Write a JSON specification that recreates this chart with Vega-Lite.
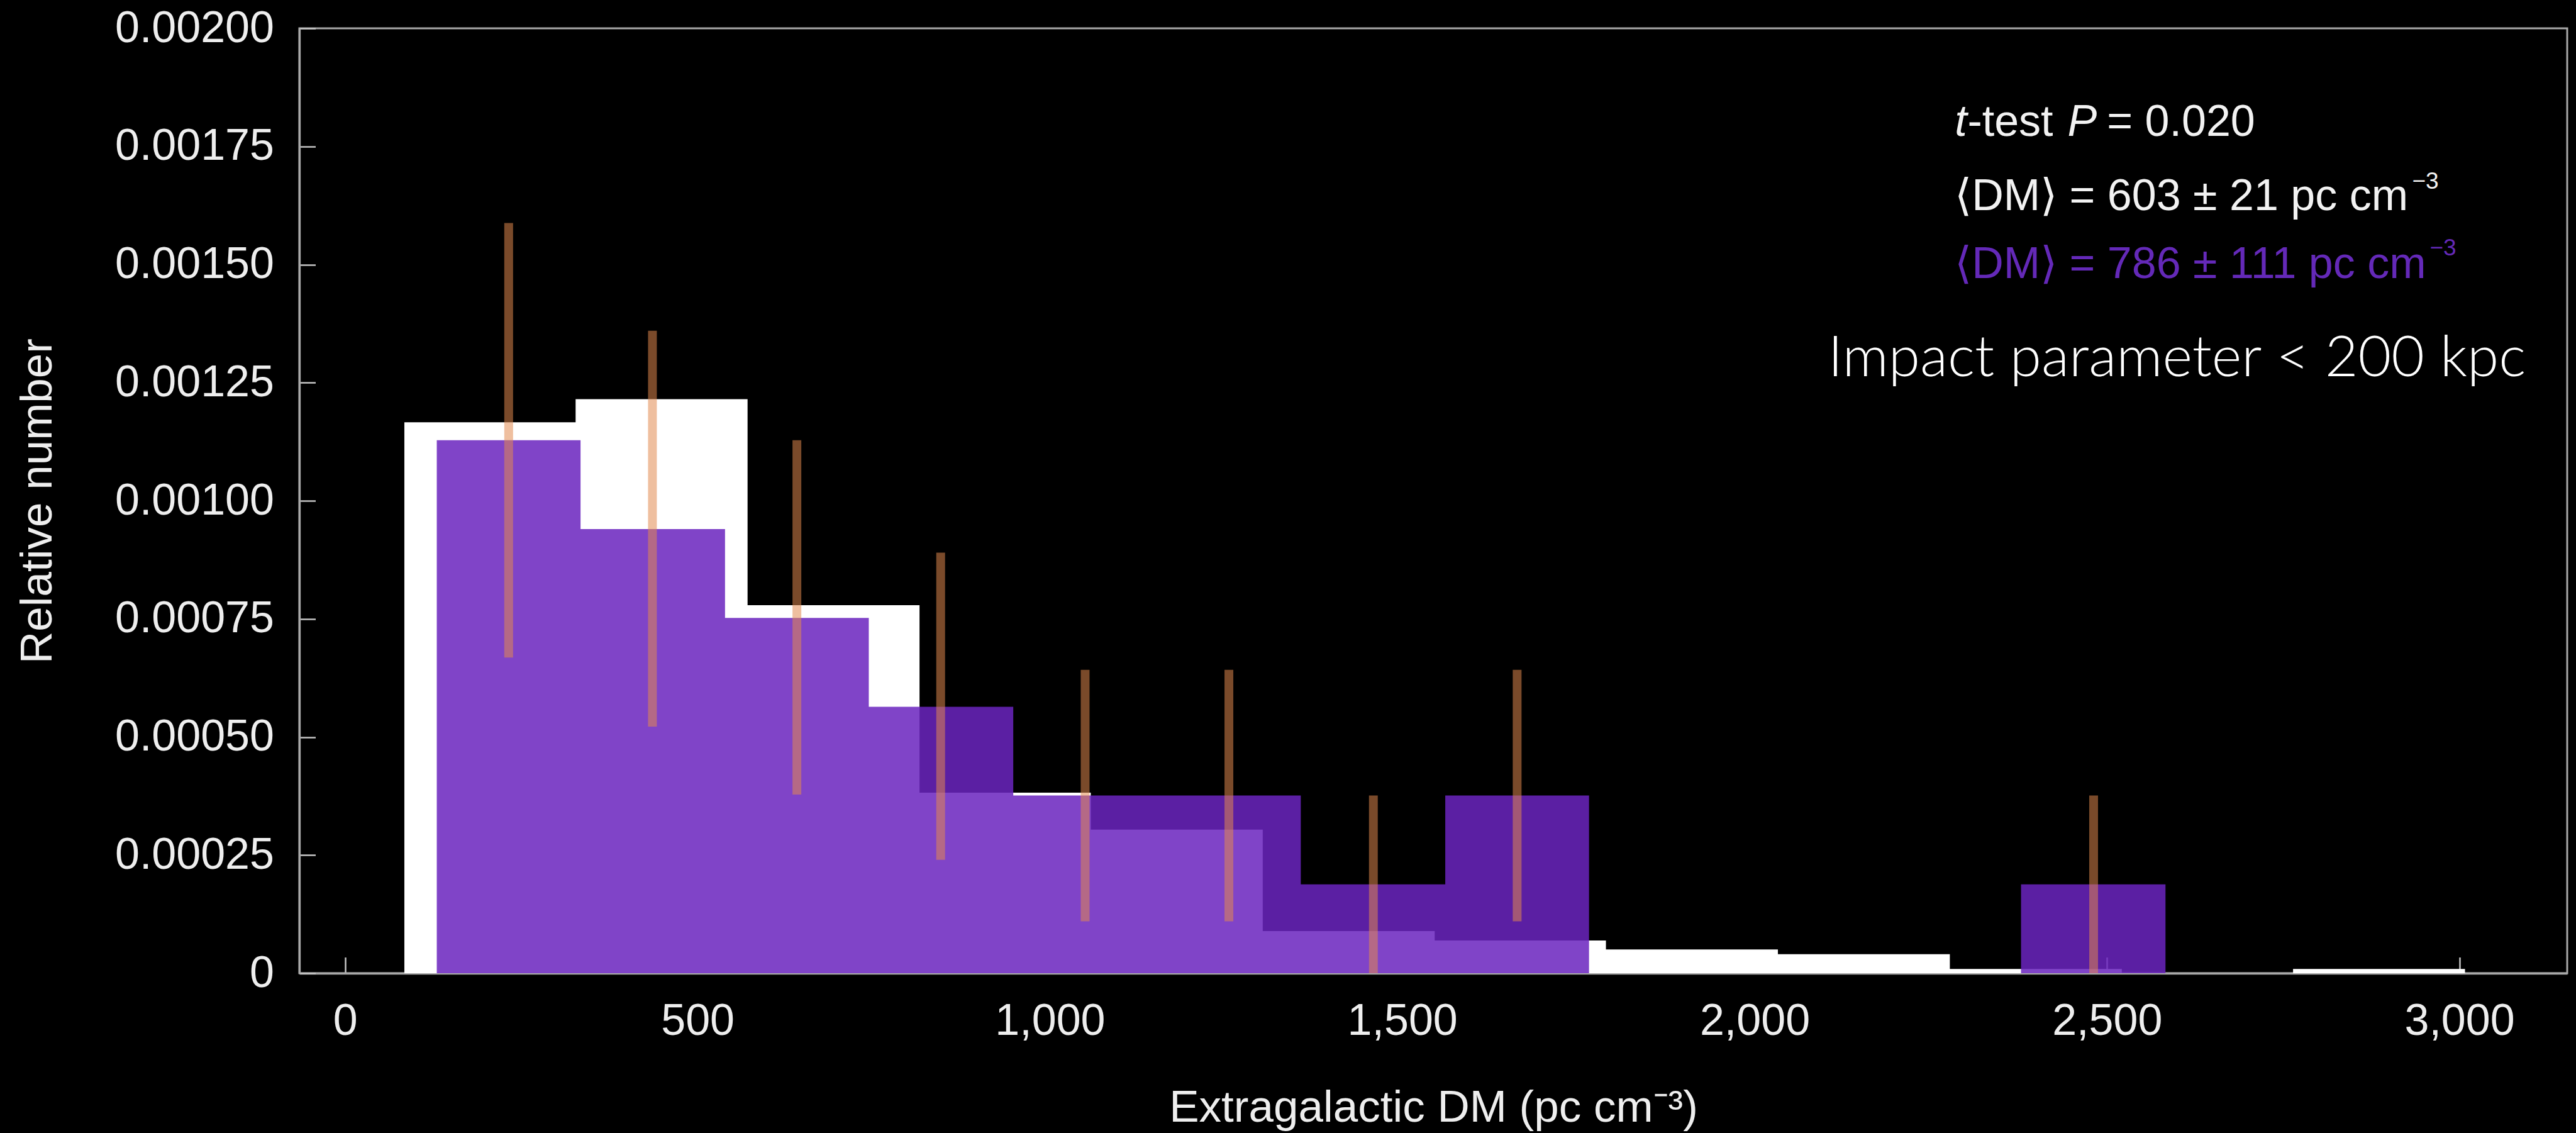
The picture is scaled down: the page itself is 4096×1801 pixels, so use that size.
{
  "$schema": "https://vega.github.io/schema/vega-lite/v6.json",
  "width": 3606,
  "height": 1502,
  "autosize": {"type": "none"},
  "padding": {"left": 476, "top": 45, "right": 14, "bottom": 254},
  "background": "#000000",
  "config": {
    "view": {"stroke": "#a8a8a8", "strokeWidth": 3, "fill": "#000000"},
    "axis": {
      "grid": false,
      "domainColor": "#a8a8a8",
      "domainWidth": 3.3,
      "tickColor": "#c4c4c4",
      "tickWidth": 2.5,
      "tickSize": -25.5,
      "labelFont": "Liberation Sans",
      "labelFontSize": 70,
      "labelColor": "#eeeeee",
      "labelLimit": 500,
      "labelFlush": false,
      "labelOverlap": false,
      "labelBound": false,
      "titleFont": "Liberation Sans",
      "titleFontSize": 71,
      "titleFontWeight": "normal",
      "titleColor": "#eeeeee",
      "titleLimit": 2000
    }
  },
  "datasets": {
    "allFrb": [
      {"edge": 84, "h": 0.001166},
      {"edge": 327, "h": 0.001215},
      {"edge": 571, "h": 0.000779},
      {"edge": 815, "h": 0.000382},
      {"edge": 1058, "h": 0.000304},
      {"edge": 1302, "h": 0.0000892},
      {"edge": 1546, "h": 0.0000691},
      {"edge": 1789, "h": 0.0000503},
      {"edge": 2033, "h": 0.0000402},
      {"edge": 2277, "h": 0.000009},
      {"edge": 2521, "h": 0},
      {"edge": 2764, "h": 0.000009},
      {"edge": 3008, "h": 0}
    ],
    "nearFrb": [
      {"edge": 130, "h": 0.001128},
      {"edge": 334, "h": 0.00094},
      {"edge": 539, "h": 0.000752},
      {"edge": 743, "h": 0.000564},
      {"edge": 948, "h": 0.000376},
      {"edge": 1152, "h": 0.000376},
      {"edge": 1356, "h": 0.000188},
      {"edge": 1561, "h": 0.000376},
      {"edge": 1765, "h": 0},
      {"edge": 2378, "h": 0.000188},
      {"edge": 2583, "h": 0}
    ],
    "nearErr": [
      {"dm": 232, "lo": 0.000668, "hi": 0.001588},
      {"dm": 436, "lo": 0.000522, "hi": 0.00136},
      {"dm": 641, "lo": 0.000378, "hi": 0.001128},
      {"dm": 845, "lo": 0.00024, "hi": 0.00089},
      {"dm": 1050, "lo": 0.00011, "hi": 0.000642},
      {"dm": 1254, "lo": 0.00011, "hi": 0.000642},
      {"dm": 1459, "lo": 0, "hi": 0.000376},
      {"dm": 1663, "lo": 0.00011, "hi": 0.000642},
      {"dm": 2481, "lo": 0, "hi": 0.000376}
    ],
    "notePlain": [
      {"x": 2302, "y": 0.001772, "t": "-test"},
      {"x": 2500, "y": 0.001772, "t": "= 0.020"},
      {"x": 2284, "y": 0.001615, "t": "⟨DM⟩ = 603 ± 21 pc cm"}
    ],
    "noteItalic": [
      {"x": 2284, "y": 0.001772, "t": "t"},
      {"x": 2444, "y": 0.001772, "t": "P"}
    ],
    "notePurple": [
      {"x": 2284, "y": 0.001471, "t": "⟨DM⟩ = 786 ± 111 pc cm"}
    ],
    "noteSup": [
      {"x": 2933, "y": 0.00166, "t": "−3"}
    ],
    "noteSupPurple": [
      {"x": 2958, "y": 0.001519, "t": "−3"}
    ],
    "noteImpact": [
      {"x": 2104, "y": 0.001264, "t": "Impact parameter < 200 kpc"}
    ]
  },
  "layer": [
    {
      "data": {"name": "allFrb"},
      "mark": {"type": "area", "interpolate": "step-after", "fill": "#ffffff"},
      "encoding": {
        "x": {
          "field": "edge",
          "type": "quantitative",
          "scale": {"domain": [-65, 3153], "nice": false, "zero": false},
          "axis": {
            "values": [0, 500, 1000, 1500, 2000, 2500, 3000],
            "format": ",d",
            "labelPadding": 68,
            "title": "Extragalactic DM (pc cm⁻³)",
            "titleBaseline": "alphabetic",
            "titlePadding": 124
          }
        },
        "y": {
          "field": "h",
          "type": "quantitative",
          "scale": {"domain": [0, 0.002], "nice": false},
          "axis": {
            "values": [0, 0.00025, 0.0005, 0.00075, 0.001, 0.00125, 0.0015, 0.00175, 0.002],
            "labelExpr": "datum.value === 0 ? '0' : format(datum.value, '.5f')",
            "labelPadding": 66,
            "title": "Relative number",
            "titlePadding": 180
          }
        },
        "y2": {"datum": 0}
      }
    },
    {
      "data": {"name": "nearFrb"},
      "mark": {"type": "area", "interpolate": "step-after", "fill": "#6a24bf", "fillOpacity": 0.855},
      "encoding": {
        "x": {"field": "edge", "type": "quantitative"},
        "y": {"field": "h", "type": "quantitative"},
        "y2": {"datum": 0}
      }
    },
    {
      "data": {"name": "nearErr"},
      "mark": {"type": "rule", "stroke": "#e2894e", "strokeOpacity": 0.54, "strokeWidth": 14, "strokeCap": "butt"},
      "encoding": {
        "x": {"field": "dm", "type": "quantitative"},
        "y": {"field": "lo", "type": "quantitative"},
        "y2": {"field": "hi"}
      }
    },
    {
      "data": {"name": "notePlain"},
      "mark": {"type": "text", "font": "Liberation Sans", "fontSize": 70, "color": "#f2f2f2", "align": "left", "baseline": "alphabetic"},
      "encoding": {
        "x": {"field": "x", "type": "quantitative"},
        "y": {"field": "y", "type": "quantitative"},
        "text": {"field": "t"}
      }
    },
    {
      "data": {"name": "noteItalic"},
      "mark": {"type": "text", "font": "Liberation Sans", "fontSize": 70, "fontStyle": "italic", "color": "#f2f2f2", "align": "left", "baseline": "alphabetic"},
      "encoding": {
        "x": {"field": "x", "type": "quantitative"},
        "y": {"field": "y", "type": "quantitative"},
        "text": {"field": "t"}
      }
    },
    {
      "data": {"name": "notePurple"},
      "mark": {"type": "text", "font": "Liberation Sans", "fontSize": 70, "color": "#6429b8", "align": "left", "baseline": "alphabetic"},
      "encoding": {
        "x": {"field": "x", "type": "quantitative"},
        "y": {"field": "y", "type": "quantitative"},
        "text": {"field": "t"}
      }
    },
    {
      "data": {"name": "noteSup"},
      "mark": {"type": "text", "font": "Liberation Sans", "fontSize": 37, "color": "#f2f2f2", "align": "left", "baseline": "alphabetic"},
      "encoding": {
        "x": {"field": "x", "type": "quantitative"},
        "y": {"field": "y", "type": "quantitative"},
        "text": {"field": "t"}
      }
    },
    {
      "data": {"name": "noteSupPurple"},
      "mark": {"type": "text", "font": "Liberation Sans", "fontSize": 37, "color": "#6429b8", "align": "left", "baseline": "alphabetic"},
      "encoding": {
        "x": {"field": "x", "type": "quantitative"},
        "y": {"field": "y", "type": "quantitative"},
        "text": {"field": "t"}
      }
    },
    {
      "data": {"name": "noteImpact"},
      "mark": {"type": "text", "font": "Lato", "fontWeight": 300, "fontSize": 91, "color": "#ffffff", "align": "left", "baseline": "alphabetic"},
      "encoding": {
        "x": {"field": "x", "type": "quantitative"},
        "y": {"field": "y", "type": "quantitative"},
        "text": {"field": "t"}
      }
    }
  ]
}
